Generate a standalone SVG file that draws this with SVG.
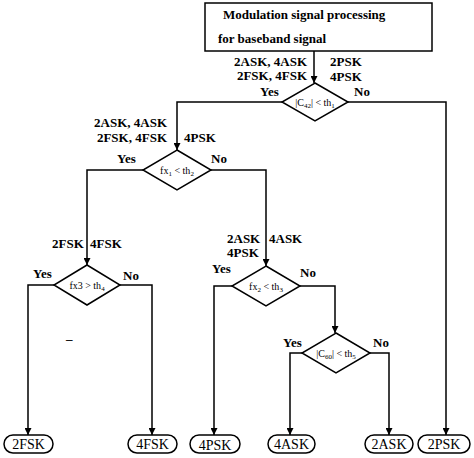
<svg xmlns="http://www.w3.org/2000/svg" width="474" height="458" viewBox="0 0 474 458">
<style>
.shape{fill:#fff;stroke:#000;stroke-width:1.5}
.wire{fill:none;stroke:#000;stroke-width:1.5}
.t{font-family:"Liberation Serif","Times New Roman",serif;fill:#000}
.lbl{font-size:13px;font-weight:bold}
.box{font-size:13px;font-weight:bold}
.dt{font-size:10px;text-anchor:middle}
.term{font-size:14px;text-anchor:middle}
.r{text-anchor:end}
</style>
<defs>
<marker id="ah" viewBox="0 0 10 10" refX="10" refY="5" markerWidth="7" markerHeight="7" markerUnits="userSpaceOnUse" orient="auto">
<path d="M0,0 L10,5 L0,10 z" fill="#000"/>
</marker>
</defs>
<rect width="474" height="458" fill="#fff"/>
<g id="connectors">
<path class="wire" d="M314,51 V83" marker-end="url(#ah)"/>
<path class="wire" d="M282,102 H177 V150" marker-end="url(#ah)"/>
<path class="wire" d="M348,102 H446 V435" marker-end="url(#ah)"/>
<path class="wire" d="M143,170 H87 V265" marker-end="url(#ah)"/>
<path class="wire" d="M211,170 H266 V266" marker-end="url(#ah)"/>
<path class="wire" d="M54,285 H28 V435" marker-end="url(#ah)"/>
<path class="wire" d="M120,285 H152 V435" marker-end="url(#ah)"/>
<path class="wire" d="M232,286 H214 V435" marker-end="url(#ah)"/>
<path class="wire" d="M300,286 H335 V333" marker-end="url(#ah)"/>
<path class="wire" d="M302,353 H290 V435" marker-end="url(#ah)"/>
<path class="wire" d="M370,353 H389 V435" marker-end="url(#ah)"/>
</g>
<g id="start">
<rect class="shape" x="205" y="3" width="227" height="48"/>
<text class="t box" x="223" y="19">Modulation signal processing</text>
<text class="t box" x="218" y="43">for baseband signal</text>
</g>
<g id="d1">
<polygon class="shape" points="315,83 348,102 315,121 282,102"/>
<text class="t dt" x="315" y="106">|C<tspan font-size="7" dy="2">42</tspan><tspan dy="-2">| &lt; th</tspan><tspan font-size="7" dy="2">1</tspan></text>
</g>
<g id="d2">
<polygon class="shape" points="177,150 211,170 177,190 143,170"/>
<text class="t dt" x="177" y="174">fx<tspan font-size="7" dy="2">1</tspan><tspan dy="-2"> &lt; th</tspan><tspan font-size="7" dy="2">2</tspan></text>
</g>
<g id="d3">
<polygon class="shape" points="87,265 120,285 87,305 54,285"/>
<text class="t dt" x="87" y="289">fx3 &gt; th<tspan font-size="7" dy="2">4</tspan></text>
</g>
<g id="d4">
<polygon class="shape" points="266,266 300,286 266,306 232,286"/>
<text class="t dt" x="266" y="290">fx<tspan font-size="7" dy="2">2</tspan><tspan dy="-2"> &lt; th</tspan><tspan font-size="7" dy="2">3</tspan></text>
</g>
<g id="d5">
<polygon class="shape" points="336,333 370,353 336,373 302,353"/>
<text class="t dt" x="336" y="357">|C<tspan font-size="7" dy="2">60</tspan><tspan dy="-2">| &lt; th</tspan><tspan font-size="7" dy="2">5</tspan></text>
</g>
<g id="labels">
<text class="t lbl r" x="307" y="66">2ASK, 4ASK</text>
<text class="t lbl r" x="307" y="80">2FSK, 4FSK</text>
<text class="t lbl" x="330" y="66">2PSK</text>
<text class="t lbl" x="330" y="81">4PSK</text>
<text class="t lbl" x="260" y="96">Yes</text>
<text class="t lbl" x="354" y="96">No</text>
<text class="t lbl r" x="167" y="127">2ASK, 4ASK</text>
<text class="t lbl r" x="167" y="142">2FSK, 4FSK</text>
<text class="t lbl" x="184" y="142">4PSK</text>
<text class="t lbl" x="117" y="163">Yes</text>
<text class="t lbl" x="211" y="163">No</text>
<text class="t lbl" x="52" y="248">2FSK</text>
<text class="t lbl" x="90" y="248">4FSK</text>
<text class="t lbl" x="33" y="278">Yes</text>
<text class="t lbl" x="123" y="280">No</text>
<text class="t lbl" x="66" y="343">–</text>
<text class="t lbl" x="227" y="243">2ASK</text>
<text class="t lbl" x="269" y="243">4ASK</text>
<text class="t lbl" x="227" y="257">4PSK</text>
<text class="t lbl" x="212" y="273">Yes</text>
<text class="t lbl" x="300" y="277">No</text>
<text class="t lbl" x="283" y="347">Yes</text>
<text class="t lbl" x="373" y="347">No</text>
</g>
<g id="t2fsk"><rect class="shape" x="4" y="435" width="49" height="18" rx="9"/><text class="t term" x="28.5" y="449">2FSK</text></g>
<g id="t4fsk"><rect class="shape" x="128" y="435" width="49" height="18" rx="9"/><text class="t term" x="152.5" y="449">4FSK</text></g>
<g id="t4psk"><rect class="shape" x="190" y="435" width="50" height="18" rx="9"/><text class="t term" x="215" y="450">4PSK</text></g>
<g id="t4ask"><rect class="shape" x="268" y="435" width="47" height="18" rx="9"/><text class="t term" x="291.5" y="449">4ASK</text></g>
<g id="t2ask"><rect class="shape" x="365" y="435" width="48" height="18" rx="9"/><text class="t term" x="389" y="449">2ASK</text></g>
<g id="t2psk"><rect class="shape" x="418" y="435" width="52" height="18" rx="9"/><text class="t term" x="444" y="449">2PSK</text></g>
</svg>
